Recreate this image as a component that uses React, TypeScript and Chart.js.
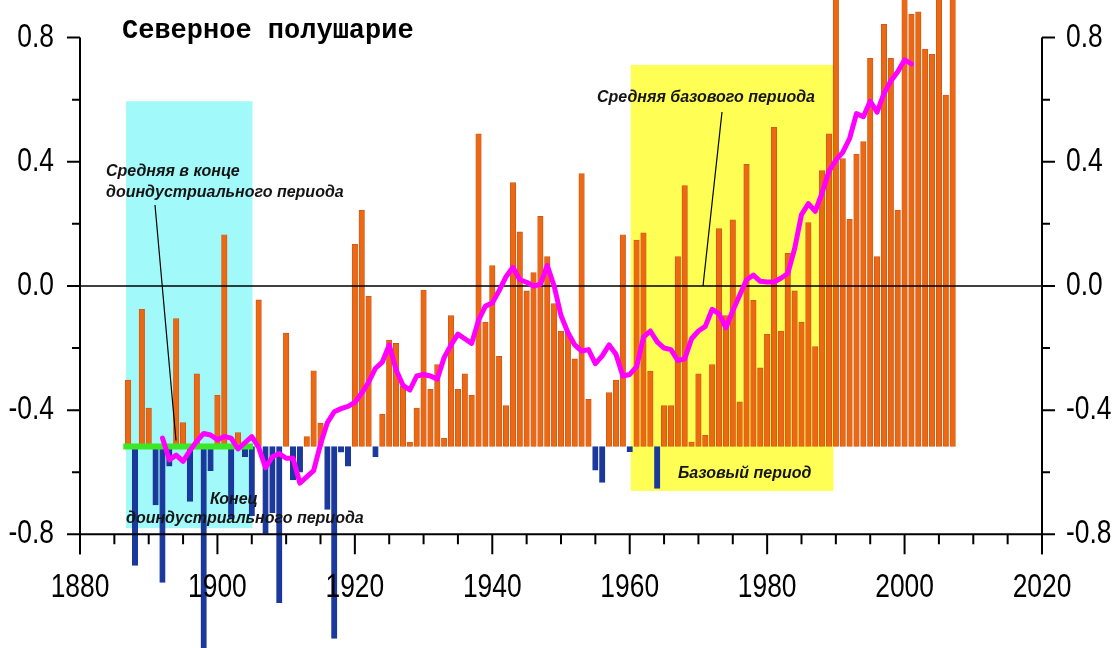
import React, { useEffect, useRef } from "react";
import { Chart, registerables } from "chart.js";

Chart.register(...registerables);

// ---- data ----
const FIRST_YEAR = 1887;
const anomalies = [
  -0.303, -0.9, -0.075, -0.393, -0.705, -0.955, -0.58, -0.105, -0.44, -0.694,
  -0.283, -1.25, -0.595, -0.352, 0.165, -0.75, -0.472, -0.55, -0.74, -0.045,
  -0.797, -0.73, -1.02, -0.152, -0.625, -0.6, -0.485, -0.273, -0.442, -0.72,
  -1.135, -0.535, -0.58, 0.134, 0.244, -0.033, -0.55, -0.413, -0.174, -0.185,
  -0.323, -0.503, -0.393, -0.013, -0.333, -0.253, -0.49, -0.095, -0.333, -0.283,
  -0.352, 0.49, -0.116, 0.066, -0.227, -0.385, 0.333, 0.174, -0.016, 0.043,
  0.224, 0.095, -0.057, -0.145, -0.15, -0.235, 0.362, -0.365, -0.593, -0.633,
  -0.343, -0.303, 0.165, -0.534, 0.148, 0.171, -0.274, -0.652, -0.385, -0.385,
  0.095, 0.323, -0.503, -0.283, -0.481, -0.253, 0.185, -0.095, 0.213, -0.373,
  0.392, -0.046, -0.264, -0.156, 0.511, -0.145, 0.105, -0.016, -0.116, 0.204,
  -0.195, 0.372, 0.49, 0.98, 0.41, 0.215, 0.425, 0.465, 0.733, 0.095,
  0.843, 0.733, 0.244, 0.98, 0.875, 0.883, 0.763, 0.746, 0.98, 0.615,
  0.98,
];
const years = anomalies.map((_, i) => FIRST_YEAR + i);

const SMOOTH_FIRST_YEAR = 1892;
const smoothed = [
  -0.49, -0.56, -0.545, -0.565, -0.53, -0.5, -0.475, -0.48, -0.495, -0.485,
  -0.49, -0.525, -0.505, -0.485, -0.52, -0.585, -0.55, -0.54, -0.555, -0.555,
  -0.635, -0.615, -0.595, -0.51, -0.44, -0.405, -0.395, -0.388, -0.375, -0.345,
  -0.31, -0.265, -0.245, -0.19, -0.27, -0.32, -0.335, -0.29, -0.285, -0.29,
  -0.3, -0.23, -0.19, -0.155, -0.17, -0.185, -0.11, -0.065, -0.055, -0.015,
  0.03, 0.06, 0.02, 0.012, 0.0, 0.005, 0.066, 0.0, -0.095, -0.15,
  -0.19, -0.21, -0.205, -0.25, -0.225, -0.19, -0.22, -0.29, -0.285, -0.26,
  -0.165, -0.145, -0.18, -0.2, -0.205, -0.24, -0.235, -0.17, -0.145, -0.13,
  -0.075, -0.09, -0.135, -0.08, -0.03, 0.02, 0.035, 0.015, 0.013, 0.013,
  0.025, 0.04, 0.12, 0.23, 0.265, 0.24, 0.3, 0.37, 0.405, 0.43,
  0.475, 0.555, 0.545, 0.595, 0.56, 0.62, 0.66, 0.69, 0.728, 0.715,
];
const smoothYears = smoothed.map((_, i) => SMOOTH_FIRST_YEAR + i);

const BASELINE = -0.517; // pre-industrial mean
const preindustrialSpan = [1886.3, 1905.2];
const cyanBox = [1886.7, 1905.1, -0.78, 0.595]; // x0, x1, y0, y1
const yellowBox = [1960.15, 1989.65, -0.66, 0.712];

const yTicks = [-0.8, -0.6, -0.4, -0.2, 0.0, 0.2, 0.4, 0.6, 0.8];
const yTickLabels = ["-0.8", "", "-0.4", "", "0.0", "", "0.4", "", "0.8"];
const xTicks = [1880, 1900, 1920, 1940, 1960, 1980, 2000, 2020];

const TITLE = "Северное полушарие";

const LABEL_FONT = '33px "Liberation Sans", Arial, sans-serif';
const NOTE_FONT = 'italic bold 16px "Liberation Sans", Arial, sans-serif';

function narrowText(ctx: CanvasRenderingContext2D, t: string, x: number, y: number, align: CanvasTextAlign, sx = 0.8) {
  ctx.save();
  ctx.translate(x, y);
  ctx.scale(sx, 1);
  ctx.textAlign = align;
  ctx.fillText(t, 0, 0);
  ctx.restore();
}

const decorPlugin = {
  id: "decor",
  beforeDatasetsDraw(chart: any) {
    const { ctx, scales } = chart;
    const x = scales.x, y = scales.y;
    const box = (b: number[], color: string) => {
      const x0 = x.getPixelForValue(b[0]);
      const x1 = x.getPixelForValue(b[1]);
      const y0 = y.getPixelForValue(b[2]);
      const y1 = y.getPixelForValue(b[3]);
      ctx.save();
      ctx.fillStyle = color;
      ctx.fillRect(x0, y1, x1 - x0, y0 - y1);
      ctx.restore();
    };
    box(cyanBox, "#A2F9F9");
    box(yellowBox, "#FEFE55");
  },
  beforeDatasetDraw(chart: any, args: any) {
    if (args.index !== 1) return;
    const { ctx, scales } = chart;
    const x = scales.x, y = scales.y;
    ctx.save();
    ctx.strokeStyle = "#000";
    ctx.lineWidth = 1.6;
    ctx.beginPath();
    ctx.moveTo(x.getPixelForValue(1880), y.getPixelForValue(0));
    ctx.lineTo(x.getPixelForValue(2020), y.getPixelForValue(0));
    ctx.stroke();
    ctx.restore();
  },
  afterDraw(chart: any) {
    const { ctx, scales } = chart;
    const x = scales.x, y = scales.y;
    const xL = x.getPixelForValue(1880);
    const xR = x.getPixelForValue(2020);
    const yTop = y.getPixelForValue(0.8);
    const yBot = y.getPixelForValue(-0.8);
    ctx.save();
    ctx.strokeStyle = "#000";
    ctx.lineWidth = 2;
    ctx.lineCap = "butt";
    // axes lines
    ctx.beginPath();
    ctx.moveTo(xL, yTop);
    ctx.lineTo(xL, yBot + 20);
    ctx.moveTo(xR, yTop);
    ctx.lineTo(xR, yBot + 20);
    ctx.moveTo(xL, yBot);
    ctx.lineTo(xR, yBot);
    ctx.stroke();
    // y ticks
    ctx.beginPath();
    yTicks.forEach((v, i) => {
      const len = yTickLabels[i] ? 13 : 8;
      const py = y.getPixelForValue(v);
      ctx.moveTo(xL - len, py);
      ctx.lineTo(xL, py);
      ctx.moveTo(xR, py);
      ctx.lineTo(xR + len, py);
    });
    // x ticks
    for (let yr = 1880; yr <= 2020; yr += 5) {
      const px = x.getPixelForValue(yr);
      const len = yr % 20 === 0 ? 20 : 10;
      ctx.moveTo(px, yBot);
      ctx.lineTo(px, yBot + len);
    }
    ctx.stroke();
    // labels
    ctx.fillStyle = "#000";
    ctx.font = LABEL_FONT;
    ctx.textBaseline = "middle";
    yTicks.forEach((v, i) => {
      const t = yTickLabels[i];
      if (!t) return;
      const py = y.getPixelForValue(v);
      narrowText(ctx, t, xL - 26, py, "right");
      narrowText(ctx, t, xR + 24, py, "left");
    });
    xTicks.forEach((yr) => {
      narrowText(ctx, String(yr), x.getPixelForValue(yr), yBot + 54, "center");
    });
    // title
    ctx.font = 'bold 27px "Liberation Mono", "DejaVu Sans Mono", monospace';
    ctx.textAlign = "left";
    ctx.textBaseline = "alphabetic";
    ctx.fillText(TITLE, 122, 38);
    // notes
    ctx.font = NOTE_FONT;
    ctx.fillStyle = "#151515";
    ctx.textBaseline = "middle";
    ctx.textAlign = "left";
    ctx.fillText("Средняя в конце", 106, 172);
    ctx.fillText("доиндустриального периода", 106, 193);
    ctx.fillText("Средняя базового периода", 597, 98);
    ctx.fillText("Базовый период", 678, 474);
    ctx.fillText("доиндустриального периода", 126, 519);
    ctx.textAlign = "center";
    ctx.fillText("Конец", 234, 500);
    // pointers
    ctx.strokeStyle = "#000";
    ctx.lineWidth = 1.2;
    ctx.beginPath();
    ctx.moveTo(155, 205);
    ctx.lineTo(176, y.getPixelForValue(BASELINE) - 6);
    ctx.moveTo(722, 112);
    ctx.lineTo(703, y.getPixelForValue(0));
    ctx.stroke();
    ctx.restore();
  },
};

export default function App() {
  const ref = useRef<HTMLCanvasElement | null>(null);
  useEffect(() => {
    if (!ref.current) return;
    const barData = years.map((yr, i) => ({ x: yr, y: [BASELINE, anomalies[i]] }));
    const chart = new Chart(ref.current, {
      type: "bar",
      data: {
        datasets: [
          {
            type: "bar",
            data: barData as any,
            backgroundColor: anomalies.map((v) => (v >= BASELINE ? "#EC6812" : "#1B389C")),
            borderColor: anomalies.map((v) => (v >= BASELINE ? "#C9571A" : "#1B389C")),
            borderWidth: 0.8,
            borderSkipped: false,
            barThickness: 5.5,
            order: 3,
          } as any,
          {
            type: "line",
            data: preindustrialSpan.map((yr) => ({ x: yr, y: BASELINE })),
            borderColor: "#3CE826",
            borderWidth: 6,
            pointRadius: 0,
            borderCapStyle: "butt",
            order: 2,
          } as any,
          {
            type: "line",
            data: smoothYears.map((yr, i) => ({ x: yr, y: smoothed[i] })),
            borderColor: "#FF00FF",
            borderWidth: 5,
            pointRadius: 0,
            tension: 0,
            borderJoinStyle: "round",
            borderCapStyle: "round",
            order: 1,
          } as any,
        ],
      },
      options: {
        animation: false,
        responsive: false,
        devicePixelRatio: 1,
        layout: { padding: { left: 80, right: 76, top: 0, bottom: 0 } },
        plugins: { legend: { display: false }, tooltip: { enabled: false } },
        scales: {
          x: { type: "linear", min: 1880, max: 2020, offset: false, display: false },
          y: { type: "linear", min: -1.166, max: 0.921, display: false },
        },
      } as any,
      plugins: [decorPlugin],
    });
    return () => chart.destroy();
  }, []);
  return (
    <div style={{ position: "fixed", left: 0, top: 0, width: 1118, height: 648, background: "#fff" }}>
      <canvas ref={ref} width={1118} height={648} style={{ display: "block" }} />
    </div>
  );
}
